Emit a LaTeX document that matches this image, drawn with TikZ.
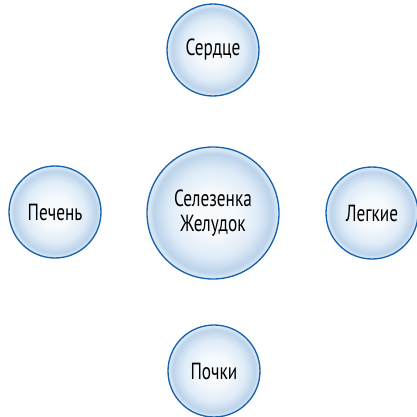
\documentclass[tikz,border=0pt]{standalone}
\usepackage{fontspec}
\setmainfont{PT Sans}[FakeStretch=0.74]
\usepackage{tikz}
\usepackage{xcolor}

\definecolor{organline}{RGB}{22,98,172}
\definecolor{organcore}{RGB}{246,250,253}
\definecolor{organmid}{RGB}{222,235,247}
\definecolor{organrim}{RGB}{188,211,234}
\definecolor{organedge}{RGB}{220,233,246}
\pgfdeclareradialshading{organglow}{\pgfpointorigin}{color(0bp)=(organcore); color(8bp)=(organcore); color(17bp)=(organmid); color(22.5bp)=(organrim); color(24.5bp)=(organedge); color(50bp)=(organedge)}

\tikzset{
  organ/.style={circle, draw=organline, line width=1pt, shade, shading=organglow,
    minimum size=69pt, inner sep=0pt, align=center,
    font=\fontsize{17.5}{19}\selectfont},
  organbig/.style={organ, minimum size=99pt}
}

\begin{document}
\begin{tikzpicture}[x=0.75pt,y=0.75pt,yscale=-1,xscale=1]
\path[use as bounding box] (0,0) rectangle (417,417);

%Shape: Circle (middle)
\node[organbig] (spleen) at (213,213) {Селезенка\\Желудок};
%Shape: Circle (top)
\node[organ] (heart) at (213,50) {Сердце};
%Shape: Circle (left)
\node[organ] (liver) at (55,212) {Печень};
%Shape: Circle (right)
\node[organ] (lungs) at (372,213) {Легкие};
%Shape: Circle (bottom)
\node[organ] (kidneys) at (214,371) {Почки};

\end{tikzpicture}
\end{document}
